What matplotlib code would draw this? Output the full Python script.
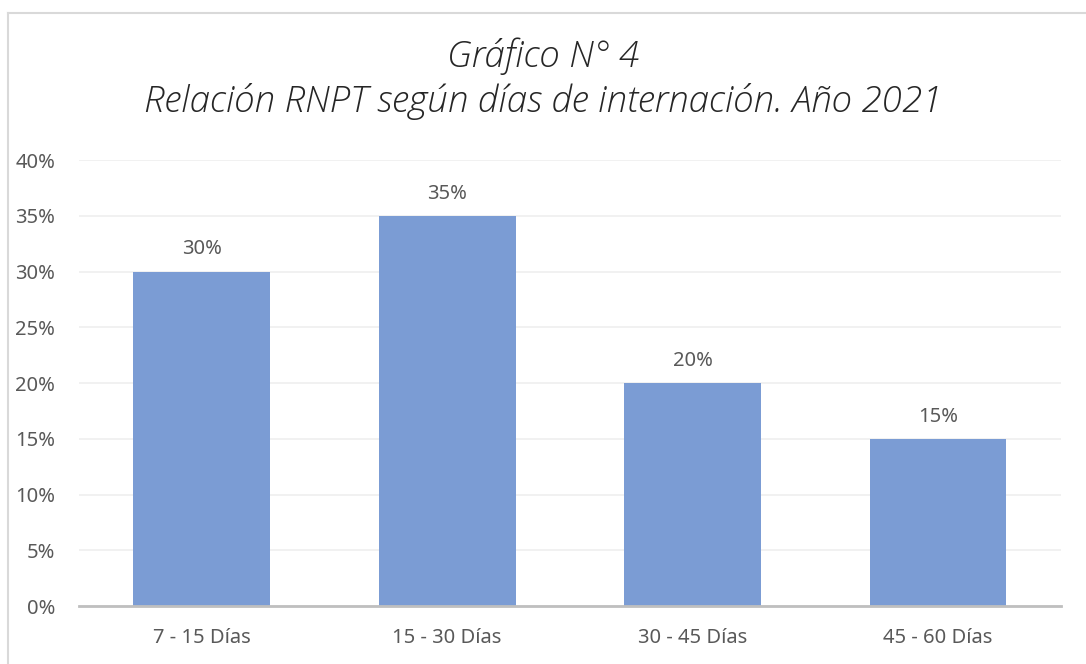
import matplotlib.pyplot as plt
from matplotlib.lines import Line2D

# data
categories = ['7 - 15 Días', '15 - 30 Días', '30 - 45 Días', '45 - 60 Días']
values = [30, 35, 20, 15]
yticks = [0, 5, 10, 15, 20, 25, 30, 35, 40]

BAR_COLOR = '#7B9CD4'
TEXT_COLOR = '#595959'

plt.rcParams['font.family'] = ['Noto Sans', 'DejaVu Sans']

fig = plt.figure(figsize=(10.86, 6.64), dpi=100)
ax = fig.add_axes([0.0727, 0.0873, 0.904, 0.6717])

x = range(len(categories))
bars = ax.bar(x, values, width=0.558, color=BAR_COLOR, zorder=3)
for b, v in zip(bars, values):
    ax.text(b.get_x() + b.get_width() / 2, v + 1.1, f'{v}%', ha='center', va='bottom',
            fontsize=14.5, color=TEXT_COLOR)

ax.set_xlim(-0.5, len(categories) - 0.5)
ax.set_ylim(0, 40)
ax.set_yticks(yticks)
ax.set_yticklabels([f'{t}%' for t in yticks])
ax.set_xticks(list(x))
ax.set_xticklabels(categories)
ax.tick_params(axis='both', length=0, labelsize=14.5, labelcolor=TEXT_COLOR)
ax.tick_params(axis='x', pad=16)
ax.tick_params(axis='y', pad=17)

ax.grid(axis='y', color='#EFEFEF', linewidth=1.2, zorder=0)
for s in ['top', 'right', 'left']:
    ax.spines[s].set_visible(False)
ax.spines['bottom'].set_color('#BFBFBF')
ax.spines['bottom'].set_linewidth(2)
ax.spines['bottom'].set_zorder(4)

# title
title_font = dict(family=['Open Sans', 'DejaVu Sans'], fontsize=26.5, style='italic',
                  fontweight='light', color='#262626')
fig.text(0.5, 0.915, 'Gráfico N° 4', ha='center', va='center', **title_font)
fig.text(0.5, 0.847, 'Relación RNPT según días de internación. Año 2021', ha='center',
         va='center', **title_font)

# chart border (cropped)
fig.add_artist(Line2D([8 / 1086, 8 / 1086], [0, 1 - 13 / 664], transform=fig.transFigure,
                      color='#D9D9D9', linewidth=1.5))
fig.add_artist(Line2D([8 / 1086, 1], [1 - 13 / 664, 1 - 13 / 664], transform=fig.transFigure,
                      color='#D9D9D9', linewidth=1.5))

fig.savefig('out.png', dpi=100)
